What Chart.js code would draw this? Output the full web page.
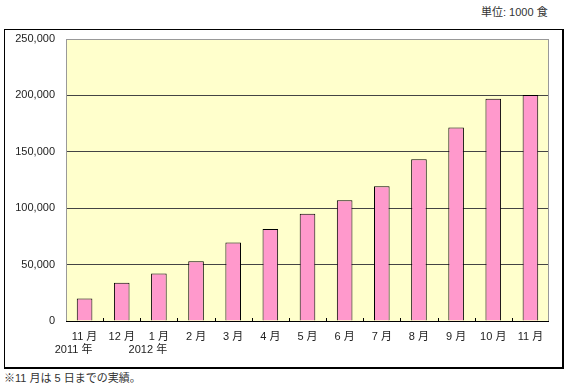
<!DOCTYPE html>
<html>
<head>
<meta charset="utf-8">
<script src="https://cdn.jsdelivr.net/npm/chart.js@4/dist/chart.umd.min.js"></script>
<style>
    body { margin: 0; background: #fff; font-family: "Liberation Sans", "Noto Sans CJK JP", sans-serif; }
    #wrap { position: relative; width: 570px; height: 391px; }
    #box { position: absolute; left: 4px; top: 29px; width: 557px; height: 337px; border: 1px solid #000; border-right-width: 2px; border-bottom-width: 2px; }
    #unit { position: absolute; left: 481px; top: 3px; font-size: 11px; color: #333; }
    #note { position: absolute; left: 4px; top: 369px; font-size: 11px; color: #333; }
    canvas { position: absolute; left: 0; top: 0; }
</style>
</head>
<body>
<div id="wrap">
    <div id="box"></div>
    <div id="unit">単位: 1000 食</div>
    <div id="note">※11 月は 5 日までの実績。</div>
    <canvas id="chart" width="570" height="391"></canvas>
</div>
<script>
const labels = [[`11 月`, `2011 年　　`], `12 月`, [`1 月`, `2012 年　　`], `2 月`, `3 月`, `4 月`, `5 月`, `6 月`, `7 月`, `8 月`, `9 月`, `10 月`, `11 月`];
const values = [20000, 34000, 42000, 53000, 69500, 81500, 95000, 107000, 119500, 143500, 171500, 197000, 200300];
const yTicks = [0, 50000, 100000, 150000, 200000, 250000];

const fontFamily = `"Liberation Sans", "Noto Sans CJK JP", sans-serif`;

// plot background, border and small category ticks inside the axis
const plotDecor = {
    id: `plotDecor`,
    beforeDraw(chart) {
        const { ctx, chartArea: a } = chart;
        ctx.save();
        ctx.fillStyle = `#FFFFCC`;
        ctx.fillRect(a.left, a.top, a.right - a.left, a.bottom - a.top);
        ctx.restore();
    },
    afterDatasetsDraw(chart) {
        const { ctx, chartArea: a } = chart;
        const x = chart.scales.x;
        ctx.save();
        ctx.strokeStyle = `#999`;
        ctx.lineWidth = 1;
        ctx.strokeRect(a.left + 0.5, a.top + 0.5, a.right - a.left - 1, a.bottom - a.top);
        ctx.strokeStyle = `#000`;
        ctx.beginPath();
        ctx.moveTo(a.left, Math.round(a.bottom) + 0.5);
        ctx.lineTo(a.right, Math.round(a.bottom) + 0.5);
        const step = (a.right - a.left) / labels.length;
        for (let i = 1; i < labels.length; i++) {
            const px = Math.round(x.getPixelForValue(i) - step / 2) + 0.5;
            ctx.moveTo(px, a.bottom);
            ctx.lineTo(px, a.bottom - 3);
        }
        ctx.stroke();
        ctx.restore();
    }
};

new Chart(document.getElementById(`chart`).getContext(`2d`), {
    type: `bar`,
    data: {
        labels: labels,
        datasets: [{
            data: values,
            backgroundColor: `#FF99CC`,
            borderColor: `#000`,
            borderWidth: 1,
            barPercentage: 0.42,
            categoryPercentage: 1
        }]
    },
    options: {
        responsive: false,
        animation: false,
        layout: { padding: { left: 0, top: 39, right: 21, bottom: 0 } },
        plugins: { legend: { display: false }, tooltip: { enabled: false } },
        scales: {
            x: {
                grid: { display: false },
                border: { display: false },
                ticks: { color: `#222`, font: { family: fontFamily, size: 11, lineHeight: 1.15 }, padding: 2, maxRotation: 0, autoSkip: false },
                afterFit: s => { s.height = 70; }
            },
            y: {
                min: 0,
                max: 250000,
                afterBuildTicks: s => { s.ticks = yTicks.map(v => ({ value: v })); },
                grid: { color: `#444`, drawTicks: false },
                border: { display: false },
                ticks: {
                    color: `#222`,
                    padding: 11,
                    font: { family: fontFamily, size: 11 },
                    callback: v => v.toLocaleString(`en-US`)
                },
                afterFit: s => { s.width = 66; }
            }
        }
    },
    plugins: [plotDecor]
});
</script>
</body>
</html>
